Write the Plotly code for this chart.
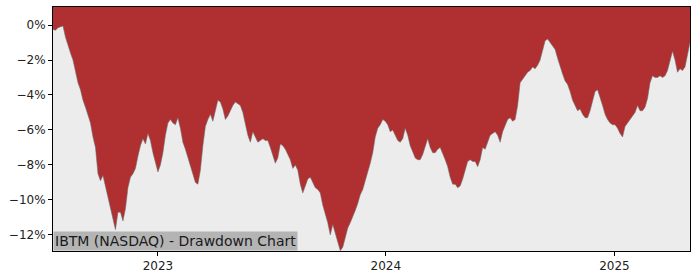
import pandas as pd
import plotly.graph_objects as go

start_date = "2022-07-17"
drawdown = [
    -0.25, -0.3, -0.15, -0.1, -0.05, -0.7, -1.2, -1.6, -2.0, -2.7,
    -3.3, -3.7, -4.3, -4.7, -5.1, -5.6, -6.4, -7.0, -8.5, -8.9,
    -8.6, -9.2, -9.8, -10.4, -11.0, -11.7, -10.7, -10.7, -11.2, -10.5,
    -9.3, -8.7, -8.5, -8.2, -7.5, -6.9, -6.5, -6.8, -6.2, -6.6,
    -7.3, -7.8, -8.4, -8.0, -7.3, -6.3, -5.6, -5.4, -5.6, -5.7,
    -5.3, -5.9, -6.7, -7.1, -7.6, -8.1, -8.6, -9.0, -9.1, -8.3,
    -6.9, -5.8, -5.4, -5.1, -5.5, -4.9, -4.3, -4.4, -4.8, -5.4,
    -5.2, -4.9, -4.6, -4.4, -4.5, -4.6, -5.0, -5.6, -6.3, -6.7,
    -6.1, -6.4, -6.7, -6.6, -6.5, -6.6, -6.6, -7.0, -7.5, -7.9,
    -7.6, -6.8, -6.9, -7.1, -7.4, -7.7, -8.2, -8.0, -8.3, -9.1,
    -9.6, -9.2, -8.8, -8.7, -9.0, -9.3, -9.4, -9.6, -10.3, -10.8,
    -11.3, -12.0, -11.4, -11.9, -12.4, -12.9, -12.7, -12.2, -11.6, -11.3,
    -11.0, -10.6, -10.2, -9.7, -9.4, -8.9, -8.5, -7.9, -7.3, -6.4,
    -5.9, -5.7, -5.4, -5.5, -5.7, -6.1, -6.0, -6.3, -6.6, -6.7,
    -6.5, -5.9, -6.3, -6.9, -7.3, -7.6, -7.7, -7.7, -7.4, -6.9,
    -6.5, -7.0, -7.3, -7.3, -7.1, -7.0, -7.3, -7.7, -8.1, -8.7,
    -9.1, -9.1, -9.3, -9.2, -8.8, -8.3, -7.8, -7.7, -7.8, -7.8,
    -8.1, -7.7, -7.0, -7.1, -6.7, -6.3, -6.2, -6.1, -6.3, -6.7,
    -6.1, -5.7, -5.4, -5.3, -5.5, -5.4, -4.6, -3.3, -3.1, -2.9,
    -2.7, -2.6, -2.4, -2.5, -2.3, -2.0, -1.4, -0.9, -0.8, -1.0,
    -1.2, -1.4, -1.9, -2.4, -2.8, -3.2, -3.4, -3.8, -4.3, -4.6,
    -4.9, -4.8, -5.1, -5.3, -5.3, -4.9, -4.4, -3.8, -3.7, -4.1,
    -4.6, -5.1, -5.4, -5.6, -5.7, -5.7, -5.9, -6.2, -6.4, -5.8,
    -5.6, -5.4, -5.2, -5.0, -4.6, -4.9, -4.9, -4.7, -4.2, -3.3,
    -2.9, -3.0, -3.0, -2.9, -3.0, -2.9, -2.6, -2.1, -1.5, -2.0,
    -2.7, -2.5, -2.6, -2.4, -1.7, -1.0,
]
dates = pd.date_range(start_date, periods=len(drawdown), freq="4D")

y_ticks = [0, -2, -4, -6, -8, -10, -12]
y_tick_labels = ["0%", "\u22122%", "\u22124%", "\u22126%", "\u22128%", "\u221210%", "\u221212%"]
x_ticks = ["2023-01-01", "2024-01-01", "2025-01-01"]
x_tick_labels = ["2023", "2024", "2025"]
y_range = [-12.92, 1.03]
x_range = ["2022-07-17", "2025-05-02"]
title_text = "IBTM (NASDAQ) - Drawdown Chart"

RED = "#b03031"
BG = "#ececec"
FONT = "DejaVu Sans"

fig = go.Figure()
fig.add_trace(go.Scatter(
    x=dates, y=[y_range[1]] * len(dates), mode="lines",
    line=dict(width=0, color=RED), hoverinfo="skip", showlegend=False,
))
fig.add_trace(go.Scatter(
    x=dates, y=drawdown, mode="lines", fill="tonexty", fillcolor=RED,
    line=dict(width=0.8, color="rgba(110,110,110,0.7)"), showlegend=False,
))

axis_common = dict(
    showline=True, linecolor="black", linewidth=1, mirror=True,
    ticks="outside", ticklen=4, tickcolor="black", showgrid=False, zeroline=False,
    tickfont=dict(family=FONT, size=12, color="#222222"),
)
fig.update_xaxes(range=x_range, tickvals=x_ticks, ticktext=x_tick_labels, **axis_common)
fig.update_yaxes(range=y_range, tickvals=y_ticks, ticktext=y_tick_labels, **axis_common)

fig.add_annotation(
    text=title_text, xref="paper", yref="paper", x=0, y=0,
    xanchor="left", yanchor="bottom", showarrow=False,
    bgcolor="#b4b4b4", borderpad=1,
    font=dict(family=FONT, size=14, color="#1a1a1a"),
)

fig.update_layout(
    width=700, height=280,
    margin=dict(l=53, r=10, t=7, b=29),
    plot_bgcolor=BG, paper_bgcolor="white",
    font=dict(family=FONT),
)

fig.write_html("out.html")
